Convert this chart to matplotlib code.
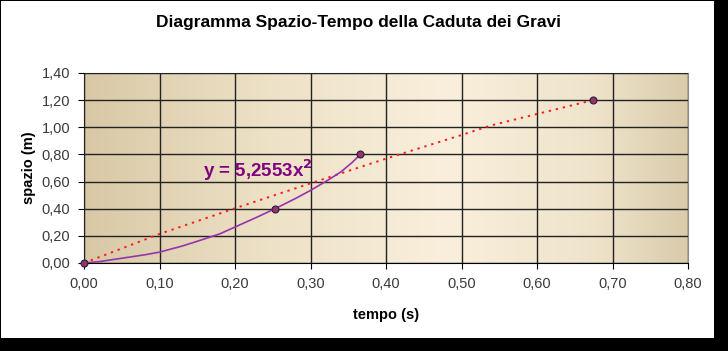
# Diagramma spazio-tempo - caduta dei gravi
import numpy as np
import matplotlib.pyplot as plt
from matplotlib.colors import LinearSegmentedColormap
from matplotlib.patches import Rectangle
from matplotlib.ticker import FuncFormatter, MultipleLocator

plt.rcParams['font.family'] = ['Liberation Sans', 'DejaVu Sans']

# measured points
tempo = [0.0, 0.253, 0.366, 0.674]
spazio = [0.0, 0.40, 0.80, 1.20]

# red dotted line
rosso_x = [0.0, 0.1, 0.2, 0.3, 0.4, 0.5, 0.54, 0.674]
rosso_y = [0.0, 0.214, 0.403, 0.587, 0.769, 0.943, 1.015, 1.20]

# purple curve
viola_x = [0.0, 0.02, 0.05, 0.08, 0.1, 0.13, 0.15, 0.18, 0.2, 0.23, 0.253, 0.28, 0.3, 0.32, 0.34, 0.355, 0.366]
viola_y = [0.0, 0.01, 0.035, 0.06, 0.08, 0.125, 0.16, 0.215, 0.265, 0.34, 0.40, 0.475, 0.535, 0.6, 0.67, 0.74, 0.80]

equazione = "y = 5,2553x$^{\\mathbf{2}}$"

fig = plt.figure(figsize=(7.28, 3.51), dpi=100)
fig.patch.set_facecolor('black')
# white chart area with black shadow right/bottom
fig.patches.append(Rectangle((1/728, 13/351), 713/728, 337/351, transform=fig.transFigure,
                             facecolor='white', edgecolor='none', zorder=-10))

ax = fig.add_axes([84/728, 88/351, 604/728, 190/351])
ax.set_xlim(0, 0.8)
ax.set_ylim(0, 1.4)

# horizontal gradient background
cmap = LinearSegmentedColormap.from_list('bg', [(0, '#d8c8a6'), (0.3, '#ede1c6'),
                                                (0.6, '#f9efdc'), (0.85, '#eee3ca'),
                                                (1, '#d9cbab')])
grad = np.linspace(0, 1, 256).reshape(1, -1)
ax.imshow(grad, cmap=cmap, aspect='auto', extent=[0, 0.8, 0, 1.4], zorder=0)

ax.xaxis.set_major_locator(MultipleLocator(0.1))
ax.yaxis.set_major_locator(MultipleLocator(0.2))
fmt = FuncFormatter(lambda v, p: f"{v:.2f}".replace('.', ','))
ax.xaxis.set_major_formatter(fmt)
ax.yaxis.set_major_formatter(fmt)
ax.grid(True, color='#222222', linewidth=1.0, zorder=1)
ax.set_axisbelow(False)

for s in ['top', 'right']:
    ax.spines[s].set_color('#8c8c8c')
for s in ['left', 'bottom']:
    ax.spines[s].set_color('black')
ax.tick_params(direction='out', length=4, color='black', labelsize=10.5,
               labelcolor='#3a3a3a', pad=6)

ax.plot(rosso_x, rosso_y, linestyle=(0, (1.2, 2.5)), color='#ff1a1a', linewidth=1.4, zorder=3)
ax.plot(viola_x, viola_y, color='#9933aa', linewidth=1.2, zorder=3)
ax.plot(tempo, spazio, linestyle='none', marker='o', markersize=5,
        markerfacecolor='#993366', markeredgecolor='#202040', markeredgewidth=0.8,
        zorder=4, clip_on=False)

ax.text(0.23, 0.685, equazione, color='#800080', fontsize=13.5, fontweight='bold',
        ha='center', va='center', zorder=5)

ax.set_xlabel("tempo (s)", fontsize=10.5, fontweight='bold', labelpad=12)
ax.set_ylabel("spazio (m)", fontsize=10.5, fontweight='bold', labelpad=4)
fig.text(359/728, 1 - 22/351, "Diagramma Spazio-Tempo della Caduta dei Gravi",
         ha='center', va='center', fontsize=12.5, fontweight='bold')

fig.savefig("out.png", dpi=100, facecolor=fig.get_facecolor())
